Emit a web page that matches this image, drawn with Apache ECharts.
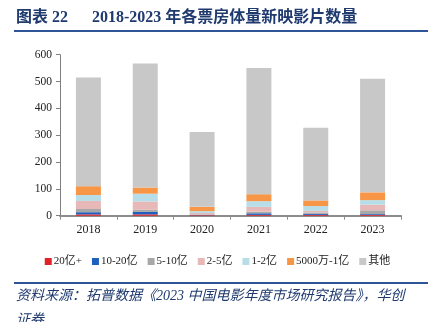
<!DOCTYPE html>
<html><head><meta charset="utf-8">
<script src="https://cdn.jsdelivr.net/npm/echarts@6/dist/echarts.min.js"></script>
<style>html,body{margin:0;padding:0;background:#fff}#c{width:435px;height:322px}</style>
</head><body><div id="c"></div>
<script>
var categories = ['2018','2019','2020','2021','2022','2023'];
var seriesNames = ['20亿+','10-20亿','5-10亿','2-5亿','1-2亿','5000万-1亿','其他'];
var v20plus   = [5, 5, 2, 3, 3, 3];
var v10to20   = [8, 9, 1, 6, 4, 3];
var v5to10    = [12, 8, 2, 6, 5, 14];
var v2to5     = [30, 31, 5, 18, 6, 21];
var v1to2     = [22, 29, 7, 21, 18, 17];
var v5000to1  = [33, 23, 16, 26, 21, 29];
var vOther    = [405, 462, 279, 470, 271, 423];
var yTicks = [0, 100, 200, 300, 400, 500, 600];

var colors = ['#E02329','#1F5FBF','#A8A8A8','#E6B9B8','#B7DEE8','#F79646','#C8C8C8'];
var dataSets = [v20plus, v10to20, v5to10, v2to5, v1to2, v5000to1, vOther];
var font = '"Liberation Serif","Times New Roman","Noto Sans CJK SC",serif';
var navy = '#1F3A6E';

var series = seriesNames.map(function(n, i){
  return {name:n, type:'bar', stack:'s', barWidth:25, data:dataSets[i],
    itemStyle:{color:colors[i]}, emphasis:{disabled:true}};
});

var chart = echarts.init(document.getElementById('c'), null, {renderer:'canvas'});
chart.setOption({
  animation:false,
  grid:{left:60, right:34, top:54.7, bottom:106.3, containLabel:false},
  xAxis:{type:'category', data:categories,
    axisLine:{lineStyle:{color:'#8C8C8C', width:2}},
    axisTick:{show:true, length:4, alignWithLabel:false, lineStyle:{color:'#8C8C8C'}},
    axisLabel:{color:'#222', fontFamily:font, fontSize:12, margin:8}},
  yAxis:{type:'value', min:yTicks[0], max:yTicks[yTicks.length-1], interval:100,
    splitLine:{show:false},
    axisLine:{show:true, lineStyle:{color:'#7F7F7F'}},
    axisTick:{show:true, length:4, lineStyle:{color:'#7F7F7F'}},
    axisLabel:{color:'#222', fontFamily:font, fontSize:11.5, margin:8}},
  legend:{data:seriesNames, top:251, left:'center', itemWidth:7, itemHeight:7, itemGap:10,
    icon:'rect', textStyle:{fontFamily:font, fontSize:11, color:'#222', padding:[0,0,0,-3]}},
  series:series,
  graphic:[
    {type:'text', left:16, top:10, style:{text:'图表 22', font:'bold 16px '+font, fill:navy}},
    {type:'text', left:92, top:10, style:{text:'2018-2023 年各票房体量新映影片数量', font:'bold 16px '+font, fill:navy}},
    {type:'rect', shape:{x:14, y:30, width:414, height:2}, style:{fill:'#2E5597'}},
    {type:'rect', shape:{x:14, y:282, width:414, height:2}, style:{fill:'#2E5597'}},
    {type:'text', left:16, top:289, style:{text:'资料来源：拓普数据《2023 中国电影年度市场研究报告》，华创', font:'italic 14px '+font, fill:navy}},
    {type:'text', left:16, top:313, style:{text:'证券', font:'italic 14px '+font, fill:navy}}
  ]
});
</script></body></html>
